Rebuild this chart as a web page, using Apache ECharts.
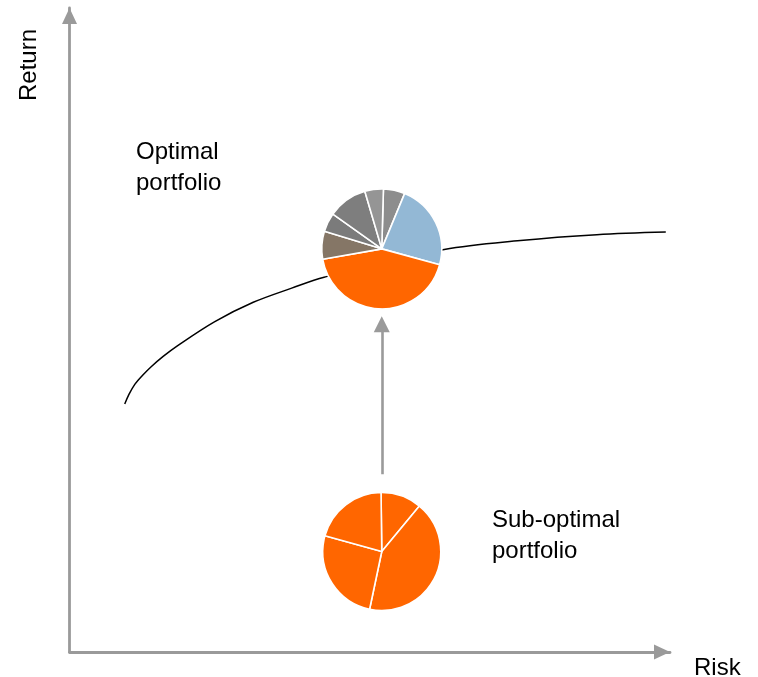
<!DOCTYPE html>
<html>
<head>
<meta charset="utf-8">
<title>Optimal vs sub-optimal portfolio</title>
<script src="https://cdn.jsdelivr.net/npm/echarts@6/dist/echarts.min.js"></script>
<style>
  html, body { margin: 0; padding: 0; background: #fff; }
  #main { width: 758px; height: 677px; }
</style>
</head>
<body>
<div id="main"></div>
<script>
// efficient frontier (risk / return in arbitrary units, 0-100)
var frontierRisk = [9.2, 9.9, 10.9, 12.1, 13.6, 15.6, 17.9, 24.2, 30.6, 37.0, 42.4, 62.4, 75.1, 87.8, 99.3]
var frontierReturn = [38.5, 40.0, 41.6, 42.9, 44.3, 45.9, 47.5, 51.3, 54.3, 56.5, 58.2, 62.5, 63.9, 64.8, 65.2]

// portfolio positions on the risk/return plane
var optimalPoint = [52, 62.6]
var subOptimalPoint = [52, 15.6]
var moveFrom = [52, 27.6]
var moveTo = [52, 50.9]

// asset weights (%)
var optimalAssets = ['Asset A', 'Asset B', 'Asset C', 'Asset D', 'Asset E', 'Asset F', 'Asset G']
var optimalWeights = [5.8, 23, 43, 7.5, 5.1, 10.6, 5]
var optimalColors = ['#8d8d8d', '#93b8d5', '#ff6600', '#857666', '#7b7b7b', '#7e7e7e', '#959595']
var subOptimalAssets = ['Asset 1', 'Asset 2', 'Asset 3', 'Asset 4']
var subOptimalWeights = [11.2, 42.3, 26, 20.5]

var labelFont = '24px "Liberation Sans", Arial, sans-serif'
var axisGray = '#9a9a9a'

function axisStyle() {
  return {
    type: 'value',
    min: 0,
    max: 100,
    axisLine: {
      show: true,
      symbol: ['none', 'triangle'],
      symbolSize: [15, 16],
      symbolOffset: [0, -8],
      lineStyle: { color: axisGray, width: 2.8 }
    },
    axisTick: { show: false },
    axisLabel: { show: false },
    splitLine: { show: false }
  }
}

function pieData(names, values, colors) {
  return values.map(function (v, i) {
    var item = { name: names[i], value: v }
    if (colors) item.itemStyle = { color: colors[i] }
    return item
  })
}

var chartDom = document.getElementById('main')
var myChart = echarts.init(chartDom)
var option = {
  animation: false,
  backgroundColor: '#fff',
  grid: { left: 69.5, right: 88, top: 8, bottom: 25 },
  xAxis: axisStyle(),
  yAxis: axisStyle(),
  graphic: [
    {
      type: 'text', x: 29, y: 65, rotation: Math.PI / 2,
      style: { text: 'Return', x: 0, y: 0, align: 'center', verticalAlign: 'middle', font: labelFont, fill: '#000' }
    },
    {
      type: 'text', x: 694, y: 668,
      style: { text: 'Risk', align: 'left', verticalAlign: 'middle', font: labelFont, fill: '#000' }
    },
    {
      type: 'text', x: 136, y: 137,
      style: { text: 'Optimal\nportfolio', align: 'left', verticalAlign: 'top', lineHeight: 31, font: labelFont, fill: '#000' }
    },
    {
      type: 'text', x: 492, y: 505,
      style: { text: 'Sub-optimal\nportfolio', align: 'left', verticalAlign: 'top', lineHeight: 31, font: labelFont, fill: '#000' }
    }
  ],
  series: [
    {
      id: 'frontier',
      type: 'line',
      data: frontierRisk.map(function (r, i) { return [r, frontierReturn[i]] }),
      smooth: 0.35,
      showSymbol: false,
      silent: true,
      z: 1,
      lineStyle: { color: '#000', width: 1.5 }
    },
    {
      id: 'move',
      type: 'lines',
      coordinateSystem: 'cartesian2d',
      silent: true,
      z: 1,
      symbol: ['none', 'triangle'],
      symbolSize: 16,
      lineStyle: { color: axisGray, width: 2.6, opacity: 1 },
      data: [{ coords: [moveFrom, moveTo] }]
    }
  ]
}
myChart.setOption(option)

// place the pies at their risk/return point through the grid scales
var optimalCenter = myChart.convertToPixel({ gridIndex: 0 }, optimalPoint)
var subOptimalCenter = myChart.convertToPixel({ gridIndex: 0 }, subOptimalPoint)

var pieCommon = {
  type: 'pie',
  radius: 60,
  silent: true,
  z: 3,
  label: { show: false },
  labelLine: { show: false },
  emphasis: { disabled: true },
  itemStyle: { borderColor: '#fff', borderWidth: 1.6 }
}

myChart.setOption({
  series: [
    Object.assign({}, pieCommon, {
      id: 'optimal',
      center: optimalCenter,
      startAngle: 88.4,
      data: pieData(optimalAssets, optimalWeights, optimalColors)
    }),
    Object.assign({}, pieCommon, {
      id: 'subOptimal',
      center: subOptimalCenter,
      radius: 59,
      startAngle: 90.7,
      color: ['#ff6600'],
      data: pieData(subOptimalAssets, subOptimalWeights)
    })
  ]
})
</script>
</body>
</html>
